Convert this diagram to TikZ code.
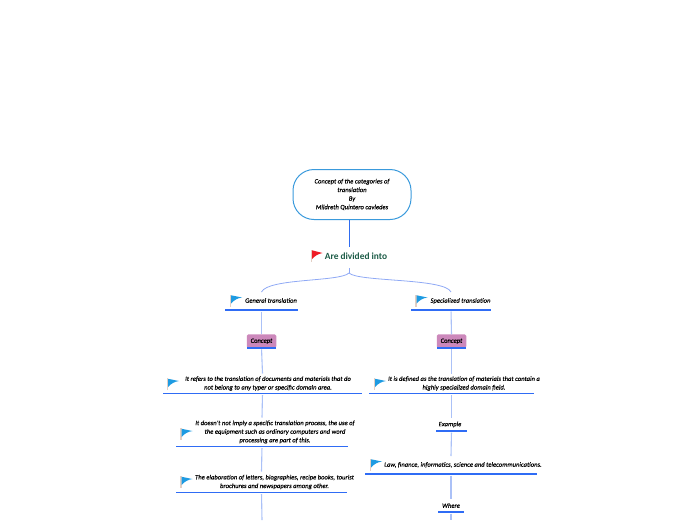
\documentclass[tikz,border=0pt]{standalone}
\usepackage{fontspec}
\setmainfont[ItalicFeatures={FakeBold=0.2}]{Carlito}
\definecolor{rootline}{HTML}{3A9ADC}
\definecolor{darkconn}{HTML}{2F6CF0}
\definecolor{lightconn}{HTML}{ABC1F7}
\definecolor{curveconn}{HTML}{8FA9F5}
\definecolor{ulblue}{HTML}{2F6CF5}
\definecolor{pinkbox}{HTML}{CC88BB}
\definecolor{flagblue}{HTML}{1E9BE2}
\definecolor{flagred}{HTML}{EE1C25}
\definecolor{pole}{HTML}{E3CFC4}
\definecolor{headgreen}{HTML}{1B5B46}
\newcommand{\shtxt}[2]{\makebox[0pt][c]{\kern#1pt\begin{tabular}{@{}c@{}}#2\end{tabular}}}
\newcommand{\ulbox}[1]{\draw[underline] (#1.south west) -- (#1.south east);}
\tikzset{
  x=1pt,y=-1pt,
  every node/.style={inner sep=0pt,outer sep=0pt,font=\fontsize{6.6}{8.6}\selectfont\itshape},
  rootbox/.style={draw=rootline,line width=1pt,rounded corners=21pt,minimum width=118pt,minimum height=50pt},
  topic/.style={minimum height=#1},
  topic/.default=20pt,
  pinkc/.style={fill=pinkbox,rounded corners=1.5pt,minimum width=29.5pt,minimum height=13.5pt},
  underline/.style={ulblue,line width=1.6pt},
  conn/.style={lightconn,line width=1.1pt},
  darkc/.style={draw=darkconn,line width=0.9pt},
  curvec/.style={curveconn,line width=0.8pt},
  flagpic/.pic={
    \fill[pole] (-0.6,0) rectangle (0.6,12);
    \fill[flagblue] (0.6,0.8) -- (11.5,3) .. controls (7,3.5) and (3,6) .. (0.6,9) -- cycle;
  },
  redflagpic/.pic={
    \fill[pole] (-0.6,0) rectangle (0.6,12);
    \fill[flagred] (0.6,0.3) -- (11,3) .. controls (7,3.8) and (3,6) .. (0.6,9) -- cycle;
  }
}
\begin{document}
\begin{tikzpicture}
\useasboundingbox (0,0) rectangle (696,520);

\node[rootbox,align=center] (root) at (352,194.5) {Concept of the categories of\\translation\\By\\Mildreth Quintero cavledes};
\node[minimum width=90pt,minimum height=22pt,font=\fontsize{9.4}{11}\selectfont\bfseries,text=headgreen] (div) at (349,257.2) {\shtxt{14}{Are divided into}};
\coordinate (branch) at (349,273);

\node[topic=18pt,minimum width=73pt] (gen) at (261.5,301) {\shtxt{19}{General translation}};
\node[topic=18pt,minimum width=80pt] (spec) at (451,301) {\shtxt{19}{Specialized translation}};

\node[pinkc] (c1) at (261.5,341.2) {Concept};
\node[pinkc] (c2) at (451.5,341.2) {Concept};

\node[topic=20pt,minimum width=199pt] (a1) at (262.5,383.5) {\shtxt{11}{It refers to the translation of documents and materials that do\\not belong to any typer or specific domain area.}};
\node[topic=29pt,minimum width=172pt] (a2) at (262,432) {\shtxt{26}{It doesn't not imply a specific translation process, the use of\\the equipment such as ordinary computers and word\\processing are part of this.}};
\node[topic=21pt,minimum width=171pt] (a3) at (261.5,482) {\shtxt{26}{The elaboration of letters, biographies, recipe books, tourist\\brochures and newspapers among other.}};
\node[topic=20pt,minimum width=165pt] (b1) at (451.5,383.5) {\shtxt{25}{It is defined as the translation of materials that contain a\\highly specialized domain field.}};
\node[topic=13pt,minimum width=31pt] (b2) at (451.5,424.5) {\shtxt{-3}{Example}};
\node[topic=18pt,minimum width=172pt] (b3) at (451,465) {\shtxt{24}{Law, finance, informatics, science and telecommunications.}};
\node[topic=13pt,minimum width=26pt] (b4) at (451,505.5) {Where};
\coordinate (a3end) at (262,520);
\coordinate (b4end) at (451,520);

\foreach \n in {gen,spec,c1,c2,a1,a2,a3,b1,b2,b3,b4}{\ulbox{\n}}

\pic at (230.5,294.5) {flagpic};
\pic at (416,294.5) {flagpic};
\pic at (167.5,378) {flagpic};
\pic at (181,428) {flagpic};
\pic at (181,476) {flagpic};
\pic at (374.5,378) {flagpic};
\pic at (370.5,458.5) {flagpic};
\pic at (311.5,250) {redflagpic};

\draw[darkc] (root.south -| div) -- ([yshift=-1pt]div.north);
\draw[curvec] (div.south) -- (branch);
\draw[curvec] (branch) .. controls (340,282) and (268,278) .. (gen.north);
\draw[curvec] (branch) .. controls (358,282) and (445,278) .. (spec.north);

\draw[conn,shorten <=1.5pt] (gen.south) -- (c1.north);
\draw[conn,shorten <=1.5pt] (spec.south) -- (c2.north);
\draw[conn,shorten <=1.5pt] (c1.south) -- (a1.north);
\draw[conn,shorten <=1.5pt] (c2.south) -- (b1.north);
\draw[conn,shorten <=1.5pt] (a1.south) -- (a2.north);
\draw[conn,shorten <=1.5pt] (a2.south) -- (a3.north);
\draw[conn,shorten <=1.5pt] (a3.south) -- (a3end);
\draw[conn,shorten <=1.5pt] (b1.south) -- (b2.north);
\draw[conn,shorten <=1.5pt] (b2.south) -- (b3.north);
\draw[conn,shorten <=1.5pt] (b3.south) -- (b4.north);
\draw[conn,shorten <=1.5pt] (b4.south) -- (b4end);
\end{tikzpicture}
\end{document}
